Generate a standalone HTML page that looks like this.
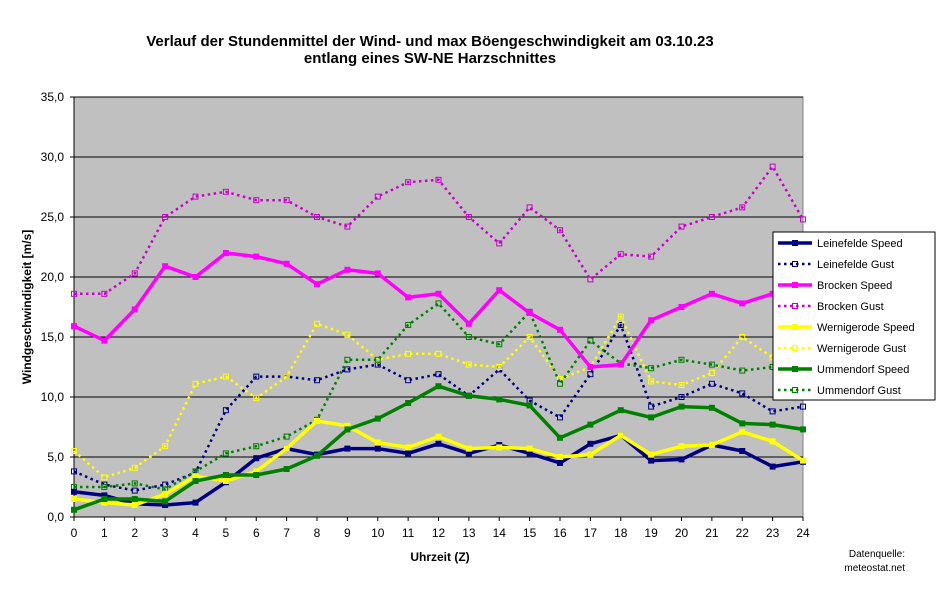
<!DOCTYPE html>
<html><head><meta charset="utf-8"><style>
body{margin:0;background:#fff;width:943px;height:589px;overflow:hidden}
svg text{font-family:"Liberation Sans",Arial,sans-serif}
</style></head><body>
<svg id="s" width="943" height="589" xmlns="http://www.w3.org/2000/svg">
<rect x="0" y="0" width="943" height="589" fill="#fff"/>
<text x="430" y="46" font-size="15" font-weight="bold" text-anchor="middle">Verlauf der Stundenmittel der Wind- und max Böengeschwindigkeit am 03.10.23</text>
<text x="430" y="63" font-size="15" font-weight="bold" text-anchor="middle">entlang eines SW-NE Harzschnittes</text>
<rect x="74" y="97" width="729" height="420" fill="#c0c0c0" stroke="#808080"/>
<g id="grid" stroke="#000" stroke-width="1"></g>
<g font-size="12" text-anchor="end">
<text x="64" y="101">35,0</text><text x="64" y="161">30,0</text><text x="64" y="221">25,0</text><text x="64" y="281">20,0</text><text x="64" y="341">15,0</text><text x="64" y="401">10,0</text><text x="64" y="461">5,0</text><text x="64" y="521">0,0</text>
</g>
<g font-size="12" text-anchor="middle" id="xl">
<text x="74" y="537">0</text><text x="104.4" y="537">1</text><text x="134.8" y="537">2</text><text x="165.1" y="537">3</text><text x="195.5" y="537">4</text><text x="225.9" y="537">5</text><text x="256.3" y="537">6</text><text x="286.6" y="537">7</text><text x="317" y="537">8</text><text x="347.4" y="537">9</text><text x="377.8" y="537">10</text><text x="408.1" y="537">11</text><text x="438.5" y="537">12</text><text x="468.9" y="537">13</text><text x="499.3" y="537">14</text><text x="529.6" y="537">15</text><text x="560" y="537">16</text><text x="590.4" y="537">17</text><text x="620.8" y="537">18</text><text x="651.1" y="537">19</text><text x="681.5" y="537">20</text><text x="711.9" y="537">21</text><text x="742.3" y="537">22</text><text x="772.6" y="537">23</text><text x="803" y="537">24</text>
</g>
<text x="440" y="561" font-size="12" font-weight="bold" text-anchor="middle">Uhrzeit (Z)</text>
<text transform="translate(31,307) rotate(-90)" font-size="12" font-weight="bold" text-anchor="middle">Windgeschwindigkeit [m/s]</text>
<text x="905" y="557" font-size="10" text-anchor="end">Datenquelle:</text>
<text x="905" y="571" font-size="10" text-anchor="end">meteostat.net</text>
<g id="series"></g>
<rect x="773" y="232" width="162" height="168" fill="#fff" stroke="#000"/>
<g id="leg"></g>
<g font-size="11">
<text x="817" y="247">Leinefelde Speed</text>
<text x="817" y="268">Leinefelde Gust</text>
<text x="817" y="289">Brocken Speed</text>
<text x="817" y="310">Brocken Gust</text>
<text x="817" y="331">Wernigerode Speed</text>
<text x="817" y="352">Wernigerode Gust</text>
<text x="817" y="373">Ummendorf Speed</text>
<text x="817" y="394">Ummendorf Gust</text>
</g>
</svg>
<script>
var NS="http://www.w3.org/2000/svg";
function el(p,t,a){var e=document.createElementNS(NS,t);for(var k in a)e.setAttribute(k,a[k]);p.appendChild(e);return e;}
var g=document.getElementById('grid');
for(var v=5;v<=35;v+=5){var y=517-v*12;el(g,'line',{x1:74,x2:803,y1:y,y2:y});}
el(g,'line',{x1:74,x2:74,y1:97,y2:521});el(g,'line',{x1:70,x2:803,y1:517,y2:517});
for(var i=0;i<=24;i++){var x=74+i*30.375;el(g,'line',{x1:x,x2:x,y1:517,y2:521});}
for(var v=0;v<=35;v+=5){el(g,'line',{x1:70,x2:74,y1:517-v*12,y2:517-v*12});}
var S=[
["#000080",0,[2.1,1.8,1.1,1.0,1.2,2.9,4.9,5.7,5.2,5.7,5.7,5.3,6.1,5.3,6.0,5.3,4.5,6.1,6.8,4.7,4.8,6.0,5.5,4.2,4.6]],
["#000080",1,[3.8,2.7,2.2,2.7,3.7,8.9,11.7,11.7,11.4,12.3,12.7,11.4,11.9,10.1,12.3,9.7,8.3,11.9,16.0,9.2,10.0,11.1,10.3,8.8,9.2]],
["#ff00ff",0,[15.9,14.7,17.3,20.9,20.0,22.0,21.7,21.1,19.4,20.6,20.3,18.3,18.6,16.1,18.9,17.0,15.6,12.5,12.7,16.4,17.5,18.6,17.8,18.6,19.4]],
["#cc00cc",1,[18.6,18.6,20.3,25.0,26.7,27.1,26.4,26.4,25.0,24.2,26.7,27.9,28.1,25.0,22.8,25.8,23.9,19.8,21.9,21.7,24.2,25.0,25.8,29.2,24.8]],
["#ffff00",0,[1.5,1.2,1.0,1.9,3.4,3.0,3.8,5.7,8.0,7.6,6.2,5.8,6.7,5.7,5.8,5.7,5.0,5.2,6.8,5.2,5.9,6.0,7.1,6.3,4.7]],
["#ffff00",1,[5.5,3.3,4.1,5.9,11.1,11.7,9.9,11.7,16.1,15.2,13.1,13.6,13.6,12.7,12.5,15.0,11.5,12.5,16.7,11.3,11.0,12.0,15.0,13.3,12.5]],
["#008000",0,[0.6,1.5,1.5,1.3,3.0,3.5,3.5,4.0,5.1,7.3,8.2,9.5,10.9,10.1,9.8,9.3,6.6,7.7,8.9,8.3,9.2,9.1,7.8,7.7,7.3]],
["#008000",1,[2.5,2.5,2.8,2.3,3.8,5.3,5.9,6.7,8.1,13.1,13.1,16.0,17.8,15.0,14.4,17.1,11.1,14.7,12.8,12.4,13.1,12.7,12.2,12.5,13.0]]
];
var sg=document.getElementById('series'),lg=document.getElementById('leg');
var order=[1,3,5,7,0,2,4,6];
order.forEach(function(k){var s=S[k];var pts=s[2].map(function(v,i){return (74+i*30.375).toFixed(1)+','+(517-v*12).toFixed(1);}).join(' ');
 var a={points:pts,fill:'none',stroke:s[0],'stroke-width':s[1]?2.5:3.5,'stroke-linejoin':'round'};
 if(s[1]){a['stroke-dasharray']='2.5 3.5';}
 el(sg,'polyline',a);
 s[2].forEach(function(v,i){el(sg,'rect',{x:74+i*30.375-2.5,y:517-v*12-2.5,width:5,height:5,fill:s[1]?'none':s[0],stroke:s[0],'stroke-width':1});});
});
S.forEach(function(s,k){var y=243+k*21;var a={x1:778,x2:812,y1:y,y2:y,stroke:s[0],'stroke-width':s[1]?2.5:3.5};if(s[1])a['stroke-dasharray']='2.5 3.5';el(lg,'line',a);
 el(lg,'rect',{x:792.5,y:y-2.5,width:5,height:5,fill:s[1]?'none':s[0],stroke:s[0]});});
</script>
</body></html>
